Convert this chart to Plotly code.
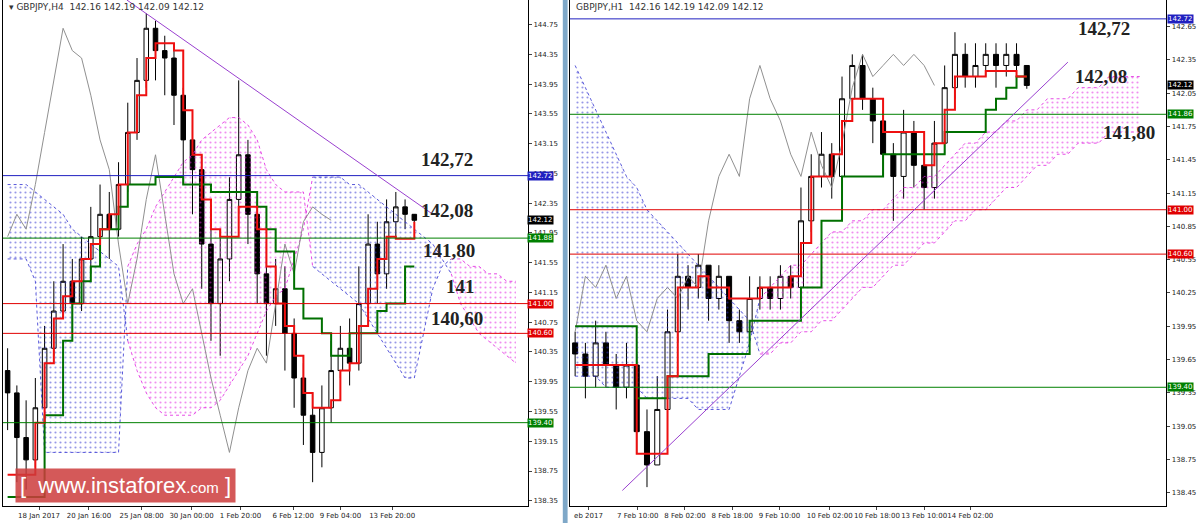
import plotly.graph_objects as go

# ---------------- data: left panel (GBPJPY H4) ----------------
h4_close = [139.8, 139.2, 138.9, 139.6, 140.4, 140.9, 141.3, 141.0, 141.6, 141.9,
            142.2, 142.0, 142.6, 143.3, 144.0, 144.7, 144.4, 144.3, 143.8, 143.2,
            142.8, 141.8, 141.0, 141.6, 142.4, 143.0, 142.2, 141.4, 141.0, 141.2,
            140.6, 140.0, 139.5, 139.0, 139.6, 140.1, 140.4, 140.2, 141.0, 141.8,
            141.4, 142.1, 142.3, 142.2, 142.12]
h4_open = [140.1] + h4_close[:-1]
h4_high = [140.4, 139.9, 139.7, 140.0, 140.7, 141.3, 141.8, 141.6, 141.9, 142.3,
           142.6, 142.5, 142.9, 143.7, 144.3, 144.9, 144.8, 144.6, 144.5, 143.9,
           143.4, 143.0, 142.3, 142.0, 142.7, 144.0, 143.2, 142.4, 141.8, 141.6,
           141.5, 140.8, 140.2, 139.8, 139.9, 140.5, 140.7, 140.8, 141.5, 142.2,
           142.1, 142.4, 142.5, 142.4, 142.19]
h4_low = [139.3, 138.6, 138.5, 138.8, 139.5, 140.3, 140.8, 140.6, 140.9, 141.4,
          141.7, 141.6, 141.9, 142.5, 143.2, 143.9, 144.0, 143.8, 143.4, 142.6,
          142.2, 141.2, 140.5, 140.3, 141.3, 142.2, 141.8, 141.0, 140.3, 140.7,
          140.1, 139.6, 139.1, 138.6, 138.8, 139.4, 140.0, 139.9, 140.1, 140.9,
          141.0, 141.2, 141.9, 142.0, 142.09]
h4_tenkan = [138.7, 138.7, 138.7, 139.4, 140.2, 140.8, 141.1, 141.3, 141.6, 141.8,
             142.0, 142.2, 142.6, 143.3, 143.8, 144.3, 144.5, 144.5, 144.4, 143.6,
             143.0, 142.4, 142.0, 141.9, 141.9, 142.3, 142.3, 142.0, 141.5, 141.0,
             140.7, 140.3, 139.8, 139.6, 139.6, 139.7, 140.1, 140.2, 140.7, 141.2,
             141.6, 141.9, 141.87, 141.87, 142.1]
h4_kijun = [138.4, 138.4, 138.4, 138.4, 139.5, 139.5, 140.5, 141.0, 141.3, 141.5,
            142.0, 142.0, 142.3, 142.6, 142.6, 142.6, 142.7, 142.7, 142.7, 142.6,
            142.6, 142.6, 142.5, 142.5, 142.5, 142.5, 142.5, 142.3, 142.0, 141.7,
            141.7, 141.2, 140.8, 140.8, 140.6, 140.3, 140.3, 140.6, 140.6, 140.6,
            140.9, 141.0, 141.0, 141.5, 141.5]
h4_span_a = [142.6, 142.6, 142.6, 142.5, 142.4, 142.3, 142.2, 142.0, 141.9, 141.8,
             141.7, 141.6, 141.5, 140.5, 140.1, 139.8, 139.6, 139.5, 139.5, 139.5,
             139.5, 139.6, 139.6, 139.7, 139.9, 140.1, 140.3, 140.6, 140.9, 141.1,
             141.2, 141.6, 142.0, 142.7, 142.7, 142.7, 142.7, 142.6, 142.6, 142.5,
             142.4, 142.3, 142.2, 142.1, 142.0, 141.9, 141.8, 141.6, 141.4, 141.0,
             140.8, 140.6, 140.5, 140.4, 140.3, 140.2]
h4_span_b = [141.6, 141.6, 141.6, 141.3, 139.0, 139.0, 139.0, 139.0, 139.0, 139.0,
             139.0, 139.0, 139.0, 141.5, 141.8, 142.0, 142.3, 142.5, 142.7, 142.9,
             143.0, 143.2, 143.3, 143.4, 143.5, 143.5, 143.4, 143.2, 142.8, 142.6,
             142.5, 142.5, 142.5, 141.5, 141.4, 141.3, 141.2, 141.1, 141.0, 140.8,
             140.6, 140.4, 140.2, 140.0, 140.0, 140.6, 141.2, 141.5, 141.6, 141.6,
             141.5, 141.5, 141.4, 141.4, 141.3, 141.3]
h4_levels = [142.72, 141.88, 141.00, 140.60, 139.40]
h4_level_colors = ["#2020c0", "#008000", "#e00000", "#e00000", "#008000"]
h4_ticks = [144.75, 144.35, 143.95, 143.55, 143.15, 142.75, 142.35, 141.95, 141.55,
            141.15, 140.75, 140.35, 139.95, 139.55, 139.15, 138.75, 138.35]
h4_xtick_pos = [3.4, 8.8, 14.5, 19.9, 25.2, 30.9, 36.0, 41.6]
h4_xtick_text = ["18 Jan 2017", "20 Jan 16:00", "25 Jan 08:00", "30 Jan 00:00",
                 "1 Feb 20:00", "6 Feb 12:00", "9 Feb 04:00", "13 Feb 20:00"]
h4_labels = ["142,72", "142,08", "141,80", "141", "140,60"]
h4_label_y = [142.93, 142.25, 141.72, 141.23, 140.80]
h4_label_x = [47.5, 47.5, 47.8, 49.0, 48.6]

# ---------------- data: right panel (GBPJPY H1) ----------------
h1_close = [139.7, 139.5, 139.8, 139.6, 139.4, 139.6, 139.0, 138.7, 139.2, 139.9,
            140.4, 140.3, 140.5, 140.2, 140.4, 140.0, 139.9, 140.2, 140.3, 140.2,
            140.4, 140.3, 140.9, 141.3, 141.5, 141.3, 142.0, 142.3, 142.0, 141.8,
            141.5, 141.3, 141.7, 141.4, 141.2, 141.6, 142.1, 142.4, 142.2, 142.3,
            142.4, 142.3, 142.4, 142.3, 142.12]
h1_open = [139.8] + h1_close[:-1]
h1_high = [139.9, 139.8, 140.0, 139.9, 139.7, 139.8, 139.7, 139.2, 139.5, 140.1,
           140.6, 140.5, 140.6, 140.5, 140.5, 140.4, 140.1, 140.4, 140.4, 140.4,
           140.5, 140.5, 141.2, 141.5, 141.7, 141.6, 142.2, 142.4, 142.4, 142.1,
           141.9, 141.6, 141.9, 141.8, 141.5, 141.8, 142.3, 142.6, 142.5, 142.5,
           142.5, 142.5, 142.5, 142.5, 142.19]
h1_low = [139.5, 139.3, 139.4, 139.4, 139.2, 139.3, 138.8, 138.5, 138.7, 139.1,
          139.8, 140.1, 140.2, 140.0, 140.1, 139.8, 139.8, 139.8, 140.1, 140.1,
          140.1, 140.2, 140.3, 140.8, 141.2, 141.1, 141.2, 141.9, 141.9, 141.6,
          141.3, 140.9, 141.1, 141.2, 141.0, 141.1, 141.5, 142.0, 142.1, 142.1,
          142.2, 142.1, 142.2, 142.1, 142.09]
h1_tenkan = [139.6, 139.6, 139.6, 139.6, 139.6, 139.6, 138.8, 138.8, 138.8, 139.5,
             140.3, 140.3, 140.4, 140.3, 140.3, 140.2, 140.2, 140.2, 140.3, 140.3,
             140.3, 140.4, 140.7, 141.3, 141.3, 141.5, 141.8, 142.0, 142.0, 142.0,
             141.7, 141.7, 141.7, 141.7, 141.4, 141.6, 141.9, 142.2, 142.2, 142.2,
             142.25, 142.25, 142.25, 142.2, 142.2]
h1_kijun = [139.95, 139.95, 139.95, 139.95, 139.95, 139.95, 139.3, 139.3, 139.3, 139.5,
            139.5, 139.5, 139.5, 139.7, 139.7, 139.7, 139.7, 140.0, 140.0, 140.0,
            140.0, 140.0, 140.3, 140.3, 140.9, 140.9, 141.3, 141.3, 141.3, 141.3,
            141.5, 141.5, 141.5, 141.5, 141.5, 141.5, 141.7, 141.7, 141.7, 141.7,
            141.9, 142.0, 142.1, 142.2, 142.2]
h1_span_a = [142.3, 142.1, 141.9, 141.7, 141.5, 141.3, 141.2, 141.0, 140.9, 140.8,
             140.7, 140.6, 140.5, 140.4, 140.3, 140.2, 140.1, 140.0, 139.7, 139.7,
             139.8, 139.8, 139.9, 139.9, 140.0, 140.0, 140.1, 140.2, 140.3, 140.3,
             140.4, 140.5, 140.5, 140.6, 140.7, 140.7, 140.8, 140.9, 140.9, 141.0,
             141.0, 141.1, 141.2, 141.2, 141.3, 141.4, 141.4, 141.5, 141.5, 141.6,
             141.6, 141.6, 141.7, 141.7, 141.7, 141.7]
h1_span_b = [139.5, 139.5, 139.5, 139.4, 139.4, 139.4, 139.4, 139.3, 139.3, 139.3,
             139.3, 139.3, 139.2, 139.2, 139.2, 139.2, 139.5, 139.8, 140.2, 140.3,
             140.4, 140.5, 140.5, 140.6, 140.7, 140.8, 140.8, 140.9, 140.9, 141.0,
             141.0, 141.1, 141.2, 141.2, 141.3, 141.3, 141.4, 141.5, 141.6, 141.6,
             141.7, 141.7, 141.8, 141.8, 141.9, 141.9, 142.0, 142.0, 142.0, 142.1,
             142.1, 142.1, 142.2, 142.2, 142.2, 142.2]
h1_levels = [142.72, 141.86, 141.00, 140.60, 139.40]
h1_level_colors = ["#2020c0", "#008000", "#e00000", "#e00000", "#008000"]
h1_ticks = [142.65, 142.35, 142.05, 141.75, 141.45, 141.15, 140.85, 140.55, 140.25,
            139.95, 139.65, 139.35, 139.05, 138.75, 138.45]
h1_xtick_pos = [1.3, 6.1, 10.7, 15.3, 19.9, 24.8, 29.4, 34.0, 38.5]
h1_xtick_text = ["eb 2017", "7 Feb 10:00", "8 Feb 02:00", "8 Feb 18:00", "9 Feb 10:00",
                 "10 Feb 02:00", "10 Feb 18:00", "13 Feb 10:00", "14 Feb 02:00"]
h1_labels = ["142,72", "142,08", "141,80"]
h1_label_y = [142.63, 142.20, 141.70]
h1_label_x = [51.5, 51.2, 54.0]

CHIKOU_SHIFT = 9
last_price = 142.12

fig = go.Figure()


def cloud_segments(span_a, span_b):
    segs = []
    start = 0
    for i in range(1, len(span_a) + 1):
        if i == len(span_a) or (span_a[i] >= span_b[i]) != (span_a[start] >= span_b[start]):
            segs.append((start, min(i, len(span_a) - 1), span_a[start] >= span_b[start]))
            start = i
    return segs


def add_panel(n, o, h, l, c, tenkan, kijun, sa, sb, trend, levels, lcolors):
    xa = "x" if n == 1 else "x2"
    ya = "y" if n == 1 else "y2"
    # cloud
    for s, e, bull in cloud_segments(sa, sb):
        col = "#3030d0" if bull else "#e020e0"
        xs = list(range(s, e + 1))
        fig.add_trace(go.Scatter(x=xs, y=sb[s:e + 1], mode="lines", xaxis=xa, yaxis=ya,
                                 line=dict(color=col, width=0.8, dash="dot"), showlegend=False))
        fig.add_trace(go.Scatter(x=xs, y=sa[s:e + 1], mode="lines", xaxis=xa, yaxis=ya, fill="tonexty",
                                 fillcolor="rgba(0,0,0,0)",
                                 fillpattern=dict(shape=".", fgcolor=col, size=5, solidity=0.15),
                                 line=dict(color=col, width=0.8, dash="dot"), showlegend=False))
    # chikou
    chikou = c[CHIKOU_SHIFT:]
    fig.add_trace(go.Scatter(x=list(range(len(chikou))), y=chikou, mode="lines", xaxis=xa, yaxis=ya,
                             line=dict(color="#909090", width=1), showlegend=False))
    # levels
    for lv, lc in zip(levels, lcolors):
        fig.add_shape(type="line", xref=xa + " domain", yref=ya, x0=0, x1=1, y0=lv, y1=lv,
                      line=dict(color=lc, width=1))
    # trend line
    fig.add_shape(type="line", xref=xa, yref=ya, x0=trend[0], y0=trend[1], x1=trend[2], y1=trend[3],
                  line=dict(color="#9a40d0", width=1))
    # candles
    fig.add_trace(go.Candlestick(x=list(range(len(c))), open=o, high=h, low=l, close=c,
                                 xaxis=xa, yaxis=ya, whiskerwidth=0,
                                 increasing=dict(line=dict(color="black", width=1), fillcolor="white"),
                                 decreasing=dict(line=dict(color="black", width=1), fillcolor="black"),
                                 showlegend=False))
    fig.add_trace(go.Scatter(x=list(range(len(kijun))), y=kijun, mode="lines", xaxis=xa, yaxis=ya,
                             line=dict(color="#007000", width=2, shape="hv"), showlegend=False))
    fig.add_trace(go.Scatter(x=list(range(len(tenkan))), y=tenkan, mode="lines", xaxis=xa, yaxis=ya,
                             line=dict(color="#ee1010", width=2, shape="hv"), showlegend=False))


add_panel(1, h4_open, h4_high, h4_low, h4_close, h4_tenkan, h4_kijun, h4_span_a, h4_span_b,
          (12.9, 145.08, 46.0, 142.2), h4_levels, h4_level_colors)
add_panel(2, h1_open, h1_high, h1_low, h1_close, h1_tenkan, h1_kijun, h1_span_a, h1_span_b,
          (4.6, 138.47, 48.0, 142.33), h1_levels, h1_level_colors)

ann = []
for txt, xx, yy in zip(h4_labels, h4_label_x, h4_label_y):
    ann.append(dict(x=xx, y=yy, xref="x", yref="y", text="<b>" + txt + "</b>", showarrow=False,
                    font=dict(family="Liberation Serif", size=19, color="#222")))
for txt, xx, yy in zip(h1_labels, h1_label_x, h1_label_y):
    ann.append(dict(x=xx, y=yy, xref="x2", yref="y2", text="<b>" + txt + "</b>", showarrow=False,
                    font=dict(family="Liberation Serif", size=19, color="#222")))

# price tags on axes
for lv, lc in zip(h4_levels + [last_price], h4_level_colors + ["black"]):
    ann.append(dict(x=0.4395, y=lv, xref="paper", yref="y", text="%.2f" % lv, showarrow=False,
                    xanchor="left", bgcolor=lc, font=dict(color="white", size=7, family="DejaVu Sans"),
                    borderpad=0))
for lv, lc in zip(h1_levels + [last_price], h1_level_colors + ["black"]):
    ann.append(dict(x=0.9725, y=lv, xref="paper", yref="y2", text="%.2f" % lv, showarrow=False,
                    xanchor="left", bgcolor=lc, font=dict(color="white", size=7, family="DejaVu Sans"),
                    borderpad=0))

ann.append(dict(x=0.006, y=1.0, xref="paper", yref="paper", xanchor="left", yanchor="top",
                text="▾ GBPJPY,H4  142.16 142.19 142.09 142.12", showarrow=False,
                font=dict(size=9, color="#333", family="DejaVu Sans")))
ann.append(dict(x=0.478, y=1.0, xref="paper", yref="paper", xanchor="left", yanchor="top",
                text="GBPJPY,H1  142.16 142.19 142.09 142.12", showarrow=False,
                font=dict(size=9, color="#333", family="DejaVu Sans")))
ann.append(dict(x=0.0125, y=0.005, xref="paper", yref="paper", xanchor="left", yanchor="bottom",
                text="[  www.insta<span style='font-size:22px'>forex</span><span style='font-size:15px'>.com</span> ]",
                showarrow=False, bgcolor="rgba(205,60,60,0.85)", borderpad=4,
                font=dict(size=22, color="white", family="Liberation Sans")))

axis_common = dict(showgrid=False, zeroline=False, showline=True, linecolor="black", linewidth=1,
                   mirror=True, tickfont=dict(size=7, family="DejaVu Sans", color="#222"),
                   ticks="outside", ticklen=3, tickangle=0, automargin=False)

fig.update_layout(
    width=1200, height=523, margin=dict(l=0, r=0, t=0, b=17),
    paper_bgcolor="white", plot_bgcolor="white", annotations=ann,
    xaxis=dict(domain=[0.0025, 0.44], range=[-0.5, 56.3], tickvals=h4_xtick_pos, ticktext=h4_xtick_text,
               rangeslider=dict(visible=False), anchor="y", **axis_common),
    yaxis=dict(range=[138.28, 145.08], side="right", tickvals=h4_ticks,
               ticktext=["%.2f" % t for t in h4_ticks], anchor="x", **axis_common),
    xaxis2=dict(domain=[0.475, 0.972], range=[-0.5, 57.6], tickvals=h1_xtick_pos, ticktext=h1_xtick_text,
                rangeslider=dict(visible=False), anchor="y2", **axis_common),
    yaxis2=dict(range=[138.33, 142.89], side="right", tickvals=h1_ticks,
                ticktext=["%.2f" % t for t in h1_ticks], anchor="x2", **axis_common),
)
fig.add_shape(type="rect", xref="paper", yref="paper", x0=0.469, x1=0.473, y0=-0.04, y1=1,
              fillcolor="#7fa8c8", line=dict(width=0))

fig.write_html("out.html", config={"displayModeBar": False},
               post_script="document.body.style.margin='0';")
